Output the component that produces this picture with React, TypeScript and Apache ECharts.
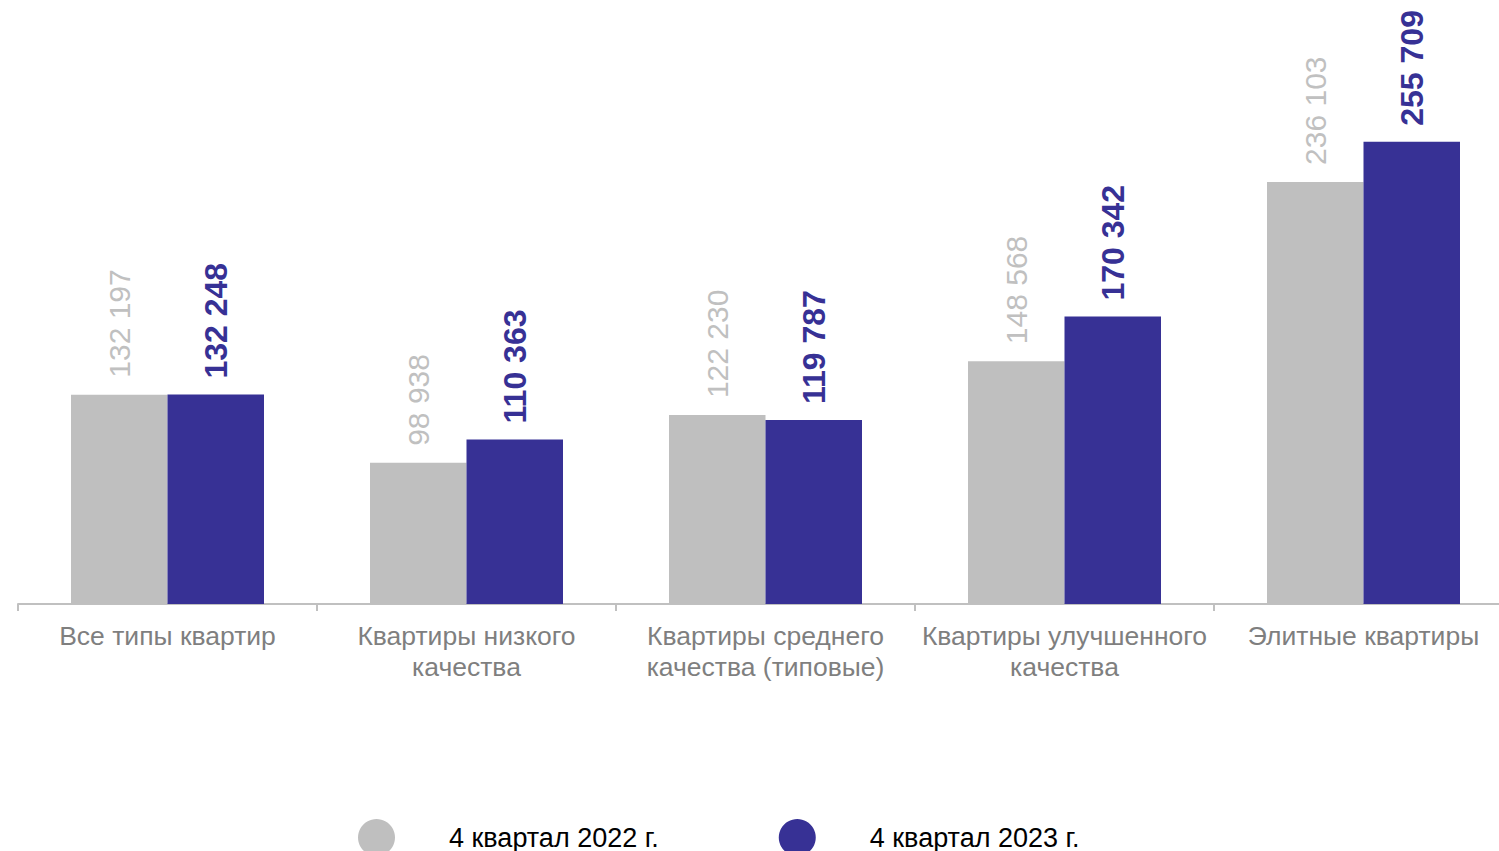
import React, { useEffect, useRef } from "react";
import * as echarts from "echarts";

const categories = [
  "Все типы квартир",
  "Квартиры низкого\nкачества",
  "Квартиры среднего\nкачества (типовые)",
  "Квартиры улучшенного\nкачества",
  "Элитные квартиры",
];
const series2022 = [132197, 98938, 122230, 148568, 236103];
const series2023 = [132248, 110363, 119787, 170342, 255709];
const seriesNames = ["4 квартал 2022 г.", "4 квартал 2023 г."];

const GRAY = "#bfbfbf";
const BLUE = "#373195";

const fmt = (v: number) => String(v).replace(/\B(?=(\d{3})+(?!\d))/g, " ");

export default function App() {
  const ref = useRef<HTMLDivElement>(null);
  useEffect(() => {
    if (!ref.current) return;
    const chart = echarts.init(ref.current, null, { renderer: "svg" });
    chart.setOption({
      animation: false,
      textStyle: { fontFamily: "Liberation Sans, Arial, sans-serif" },
      grid: {
        left: 18,
        width: 1495,
        top: 92,
        bottom: 247,
        containLabel: false,
        outerBoundsMode: "none",
      },
      legend: {
        left: 353,
        top: 814,
        icon: "circle",
        itemWidth: 37,
        itemHeight: 37,
        itemGap: 120,
        data: seriesNames,
        textStyle: {
          fontFamily: "Liberation Sans, Arial, sans-serif",
          fontSize: 27,
          color: "#000000",
          padding: [6, 0, 0, 49],
        },
      },
      xAxis: {
        type: "category",
        data: categories,
        axisLine: { show: true, lineStyle: { color: "#c0c0c0", width: 2 } },
        axisTick: { show: true, length: 7, lineStyle: { color: "#c0c0c0", width: 2 } },
        axisLabel: {
          interval: 0,
          color: "#7f7f7f",
          fontSize: 26.5,
          lineHeight: 31,
          margin: 16,
        },
      },
      yAxis: {
        type: "value",
        min: 30000,
        max: 280000,
        show: false,
        splitLine: { show: false },
      },
      series: [
        {
          name: seriesNames[0],
          type: "bar",
          data: series2022,
          barWidth: 96.5,
          barGap: "0%",
          itemStyle: { color: GRAY },
          label: {
            show: true,
            position: "top",
            rotate: 90,
            align: "left",
            verticalAlign: "middle",
            distance: 17,
            color: "#c0c0c0",
            fontSize: 30,
            formatter: (p: any) => fmt(p.value),
          },
        },
        {
          name: seriesNames[1],
          type: "bar",
          data: series2023,
          barWidth: 96.5,
          barGap: "0%",
          itemStyle: { color: BLUE },
          label: {
            show: true,
            position: "top",
            rotate: 90,
            align: "left",
            verticalAlign: "middle",
            distance: 16,
            color: BLUE,
            fontWeight: "bold",
            fontSize: 32,
            formatter: (p: any) => fmt(p.value),
          },
        },
      ],
    });
    return () => chart.dispose();
  }, []);
  return (
    <div
      ref={ref}
      style={{ position: "fixed", left: 0, top: 0, width: 1499, height: 851, background: "#fff" }}
    />
  );
}
